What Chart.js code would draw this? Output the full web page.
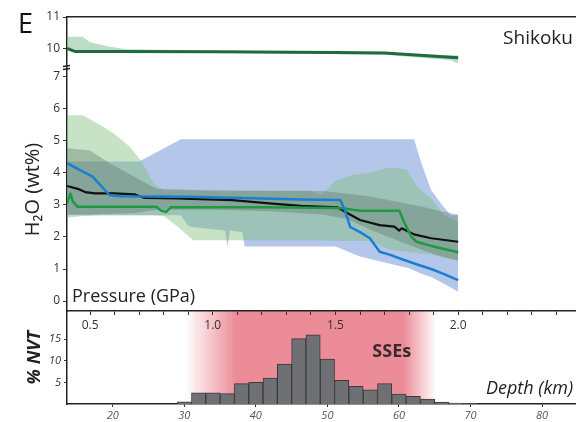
<!DOCTYPE html>
<html>
<head>
<meta charset="utf-8">
<script src="https://cdn.jsdelivr.net/npm/chart.js@4.4.1/dist/chart.umd.min.js"></script>
<style>
  body { margin: 0; background: #fff; }
  #wrap { position: relative; width: 576px; height: 422px; }
  #wrap canvas { position: absolute; left: 0; top: 0; }
</style>
</head>
<body>
<div id="wrap">
  <canvas id="hist" width="576" height="422"></canvas>
  <canvas id="main" width="576" height="422"></canvas>
  <canvas id="top" width="576" height="422"></canvas>
</div>
<script>
// ---- data ----
// pressure axis (GPa)
var pressureTicks = [0.5, 0.6, 0.7, 0.8, 0.9, 1.0, 1.1, 1.2, 1.3, 1.4, 1.5, 1.6, 1.7, 1.8, 1.9, 2.0, 2.1, 2.2, 2.3, 2.4];
var pressureLabels = [0.5, 1.0, 1.5, 2.0];

// top panel (bound water, wt%)
var topP = [0.406, 0.44, 0.6, 1.0, 1.5, 1.7, 2.0];
var topLine = [10.0, 9.9, 9.9, 9.89, 9.87, 9.85, 9.7];
var topBandP = [0.406, 0.47, 0.50, 0.58, 0.65, 1.0, 1.7, 1.97, 2.0];
var topBandHi = [10.37, 10.37, 10.2, 10.05, 9.97, 9.93, 9.88, 9.78, 9.78];
var topBandLo = [9.97, 9.85, 9.86, 9.86, 9.86, 9.86, 9.8, 9.62, 9.52];
var topTicks = [10, 11];

// main panel H2O (wt%)
var mainTicks = [0, 1, 2, 3, 4, 5, 6, 7];

var blueP = [0.406, 0.43, 0.51, 0.55, 0.58, 0.62, 0.9, 1.2, 1.36, 1.52, 1.54, 1.56, 1.60, 1.64, 1.66, 1.68, 1.72, 1.78, 1.83, 1.89, 1.94, 2.0];
var blueH2O = [4.3, 4.2, 3.88, 3.55, 3.3, 3.27, 3.25, 3.2, 3.17, 3.15, 2.8, 2.31, 2.15, 1.96, 1.75, 1.54, 1.45, 1.28, 1.15, 1.0, 0.85, 0.65];

var blackP = [0.406, 0.45, 0.48, 0.52, 0.60, 0.68, 0.72, 0.85, 1.08, 1.23, 1.36, 1.51, 1.55, 1.60, 1.68, 1.74, 1.76, 1.77, 1.82, 1.89, 2.0];
var blackH2O = [3.59, 3.5, 3.4, 3.36, 3.36, 3.33, 3.22, 3.2, 3.15, 3.05, 2.97, 2.92, 2.74, 2.53, 2.37, 2.32, 2.2, 2.27, 2.08, 1.96, 1.85];

var greenP = [0.406, 0.42, 0.43, 0.45, 0.77, 0.79, 0.81, 0.83, 1.20, 1.52, 1.60, 1.76, 1.78, 1.81, 1.83, 1.89, 2.0];
var greenH2O = [3.05, 3.35, 3.1, 2.94, 2.94, 2.82, 2.78, 2.93, 2.93, 2.9, 2.82, 2.82, 2.45, 2.0, 1.85, 1.72, 1.52];

var blueBandP = [0.406, 0.70, 0.87, 0.90, 0.92, 1.05, 1.06, 1.07, 1.12, 1.13, 1.50, 1.60, 1.70, 1.80, 1.82, 1.85, 1.89, 1.94, 1.97, 2.0];
var blueBandHi = [4.35, 4.35, 5.05, 5.05, 5.05, 5.05, 5.05, 5.05, 5.05, 5.05, 5.05, 5.05, 5.05, 5.05, 5.05, 4.3, 3.46, 2.94, 2.68, 2.68];
var blueBandLo = [2.68, 2.68, 2.68, 2.35, 2.3, 2.2, 1.7, 2.2, 2.15, 1.7, 1.7, 1.39, 1.2, 1.02, 0.95, 0.85, 0.75, 0.55, 0.42, 0.29];

var greenBandP = [0.406, 0.47, 0.54, 0.60, 0.66, 0.71, 0.76, 0.80, 0.86, 0.92, 1.40, 1.44, 1.50, 1.57, 1.64, 1.72, 1.79, 1.83, 1.89, 1.94, 2.0];
var greenBandHi = [5.8, 5.8, 5.5, 5.2, 4.83, 4.35, 3.67, 3.45, 3.45, 3.45, 3.45, 3.3, 3.75, 3.93, 4.0, 4.17, 4.1, 3.6, 3.2, 2.7, 2.45];
var greenBandLo = [2.6, 2.65, 2.68, 2.68, 2.68, 2.68, 2.68, 2.65, 2.3, 1.9, 1.9, 1.9, 1.87, 1.87, 1.87, 1.6, 1.54, 1.5, 1.45, 1.36, 1.28];

var grayBandP = [0.406, 0.50, 0.58, 0.68, 0.77, 1.00, 1.23, 1.45, 1.55, 1.65, 1.75, 1.85, 1.93, 2.0];
var grayBandHi = [4.77, 4.7, 4.3, 3.88, 3.5, 3.45, 3.43, 3.43, 3.35, 3.25, 3.1, 2.95, 2.8, 2.7];
var grayBandLo = [2.7, 2.7, 2.72, 2.75, 2.85, 2.85, 2.8, 2.7, 2.55, 2.2, 1.9, 1.6, 1.4, 1.25];

// histogram: % NVT per 2 km depth bin (bin centres, km)
var depthBins = [30, 32, 34, 36, 38, 40, 42, 44, 46, 48, 50, 52, 54, 56, 58, 60, 62, 64, 66, 68, 70];
var nvtPercent = [0.5, 2.6, 2.6, 2.4, 4.7, 5.0, 6.0, 9.2, 15.1, 16.0, 10.4, 5.5, 4.1, 3.3, 4.7, 2.3, 1.8, 1.15, 0.45, 0.2, 0.1];
var depthTicks = [20, 30, 40, 50, 60, 70, 80];
var nvtTicks = [5, 10, 15];
var sseRange = [30.2, 65.2];

// ---- helpers ----
Chart.defaults.font.family = "'Open Sans', 'Liberation Sans', sans-serif";
Chart.defaults.color = '#333';

function pts(xs, ys) {
  return xs.map(function (x, i) { return { x: x, y: ys[i] }; });
}
function band(xs, hi, lo, color, order) {
  return [
    { data: pts(xs, hi), borderWidth: 0, pointRadius: 0, fill: '+1', backgroundColor: color, order: order },
    { data: pts(xs, lo), borderWidth: 0, pointRadius: 0, fill: false, order: order }
  ];
}
function line(xs, ys, color, width, order) {
  return { data: pts(xs, ys), borderColor: color, borderWidth: width, pointRadius: 0, fill: false,
           borderJoinStyle: 'round', order: order };
}
function fixX(h) {
  return function (s) { s.height = h; s.paddingLeft = 0; s.paddingRight = 0; };
}
function fixY(w) {
  return function (s) { s.width = w; s.paddingTop = 0; s.paddingBottom = 0; };
}
function setTicks(list) {
  return function (s) { s.ticks = list.map(function (v) { return { value: v }; }); };
}
var axisColor = '#222';
var pMin = 0.406, pMax = 2.48;

var common = {
  responsive: false, animation: false, devicePixelRatio: 1,
  plugins: { legend: { display: false }, tooltip: { enabled: false } }
};

// ---- top panel ----
new Chart(document.getElementById('top'), {
  type: 'line',
  data: {
    datasets: band(topBandP, topBandHi, topBandLo, 'rgba(120,185,140,0.5)', 5)
      .concat([line(topP, topLine, '#1f6a40', 3, 1)])
  },
  options: Object.assign({}, common, {
    layout: { padding: { left: 0, right: 0, top: 17, bottom: 356 } },
    scales: {
      x: { type: 'linear', position: 'top', min: pMin, max: pMax, afterFit: fixX(0),
           ticks: { display: false }, grid: { drawOnChartArea: false, drawTicks: false },
           border: { color: axisColor, width: 1.5 } },
      y: { min: 9.44, max: 11, afterFit: fixY(67), afterBuildTicks: setTicks(topTicks),
           ticks: { padding: 3, font: { size: 12 }, color: '#333' },
           grid: { drawOnChartArea: false, tickLength: 4, color: '#333' },
           border: { color: axisColor, width: 1.5 } }
    }
  }),
  plugins: [{
    id: 'topText',
    afterDraw: function (chart) {
      var ctx = chart.ctx, a = chart.chartArea;
      ctx.save();
      ctx.fillStyle = '#111';
      ctx.font = "27px 'Open Sans', sans-serif";
      ctx.textBaseline = 'alphabetic';
      ctx.fillText('E', 18, 33);
      ctx.fillStyle = '#222';
      ctx.font = "19px 'Open Sans', sans-serif";
      ctx.textAlign = 'right';
      ctx.fillText('Shikoku', a.right - 3, 44);
      // axis break marks
      ctx.strokeStyle = '#222';
      ctx.lineWidth = 1.3;
      ctx.beginPath();
      ctx.moveTo(a.left - 4, a.bottom + 0.5); ctx.lineTo(a.left + 3, a.bottom - 0.5);
      ctx.moveTo(a.left - 4, a.bottom + 3.5); ctx.lineTo(a.left + 3, a.bottom + 2.5);
      ctx.stroke();
      ctx.restore();
    }
  }]
});

// ---- main panel ----
new Chart(document.getElementById('main'), {
  type: 'line',
  data: {
    datasets: []
      .concat(band(blueBandP, blueBandHi, blueBandLo, 'rgba(130,160,218,0.6)', 7))
      .concat(band(greenBandP, greenBandHi, greenBandLo, 'rgba(130,190,125,0.45)', 6))
      .concat(band(grayBandP, grayBandHi, grayBandLo, 'rgba(85,105,95,0.33)', 5))
      .concat([
        line(blackP, blackH2O, '#111111', 2.2, 3),
        line(greenP, greenH2O, '#1f9a40', 2.5, 2),
        line(blueP, blueH2O, '#1b7fd0', 2.5, 1)
      ])
  },
  options: Object.assign({}, common, {
    layout: { padding: { left: 0, right: 0, top: 68, bottom: 87 } },
    scales: {
      x: { type: 'linear', min: pMin, max: pMax, afterFit: fixX(24), afterBuildTicks: setTicks(pressureTicks),
           ticks: { autoSkip: false, maxRotation: 0, padding: 3, color: '#333', font: { size: 12 },
                    callback: function (v) { return pressureLabels.indexOf(v) >= 0 ? v.toFixed(1) : ''; } },
           grid: { drawOnChartArea: false, tickLength: 4, color: '#333' },
           border: { color: axisColor, width: 1.5 } },
      y: { min: -0.31, max: 7.27, afterFit: fixY(67), afterBuildTicks: setTicks(mainTicks),
           ticks: { padding: 3, font: { size: 12 }, color: '#333' },
           grid: { drawOnChartArea: false, tickLength: 4, color: '#333' },
           border: { color: axisColor, width: 1.5 },
           title: { display: true, text: 'H\u2082O (wt%)', color: '#222', font: { size: 20 },
                    padding: { top: 21, bottom: 0 } } }
    }
  }),
  plugins: [{
    id: 'mainText',
    afterDraw: function (chart) {
      var ctx = chart.ctx, a = chart.chartArea;
      ctx.save();
      ctx.fillStyle = '#222';
      ctx.font = "18px 'Open Sans', sans-serif";
      ctx.fillText('Pressure (GPa)', a.left + 5, a.bottom - 9);
      ctx.restore();
    }
  }]
});

// ---- histogram ----
new Chart(document.getElementById('hist'), {
  type: 'bar',
  data: {
    datasets: [{
      data: pts(depthBins, nvtPercent),
      backgroundColor: '#6f7073', borderColor: '#3b3b3b', borderWidth: 1,
      barPercentage: 1, categoryPercentage: 1, grouped: false
    }]
  },
  options: Object.assign({}, common, {
    layout: { padding: { left: 0, right: 0, top: 311, bottom: 0 } },
    scales: {
      x: { type: 'linear', min: 13.6, max: 84.75, offset: false, afterFit: fixX(18),
           afterBuildTicks: setTicks(depthTicks),
           ticks: { padding: 2, color: '#555', font: { size: 11, style: 'italic' } },
           grid: { drawOnChartArea: false, offset: false, tickLength: 3, color: '#333' },
           border: { color: axisColor, width: 1.5 } },
      y: { min: 0, max: 21.5, afterFit: fixY(67), afterBuildTicks: setTicks(nvtTicks),
           ticks: { padding: 3, color: '#333', font: { size: 11, style: 'italic' } },
           grid: { drawOnChartArea: false, tickLength: 3, color: '#333' },
           border: { color: axisColor, width: 1.5 },
           title: { display: true, text: '% NVT', color: '#222',
                    font: { size: 18, weight: 'bold', style: 'italic' }, padding: { top: 24, bottom: 0 } } }
    }
  }),
  plugins: [{
    id: 'sse',
    beforeDatasetsDraw: function (chart) {
      var ctx = chart.ctx, a = chart.chartArea, xs = chart.scales.x;
      var x0 = xs.getPixelForValue(sseRange[0]), x1 = xs.getPixelForValue(sseRange[1]);
      var g = ctx.createLinearGradient(x0, 0, x1, 0);
      g.addColorStop(0, 'rgba(236,140,152,0)');
      g.addColorStop(0.2, 'rgba(236,140,152,1)');
      g.addColorStop(0.87, 'rgba(236,140,152,1)');
      g.addColorStop(1, 'rgba(236,140,152,0)');
      ctx.save();
      ctx.fillStyle = g;
      ctx.fillRect(x0, a.top, x1 - x0, a.bottom - a.top);
      ctx.fillStyle = '#3a2a2c';
      ctx.font = "bold 18px 'Open Sans', sans-serif";
      ctx.textAlign = 'center';
      ctx.fillText('SSEs', xs.getPixelForValue(59.0), a.top + 46);
      ctx.restore();
    },
    afterDraw: function (chart) {
      var ctx = chart.ctx, a = chart.chartArea;
      ctx.save();
      ctx.fillStyle = '#222';
      ctx.font = "italic 18px 'Open Sans', sans-serif";
      ctx.textAlign = 'right';
      ctx.fillText('Depth (km)', a.right - 3, a.bottom - 10);
      ctx.restore();
    }
  }]
});
</script>
</body>
</html>
